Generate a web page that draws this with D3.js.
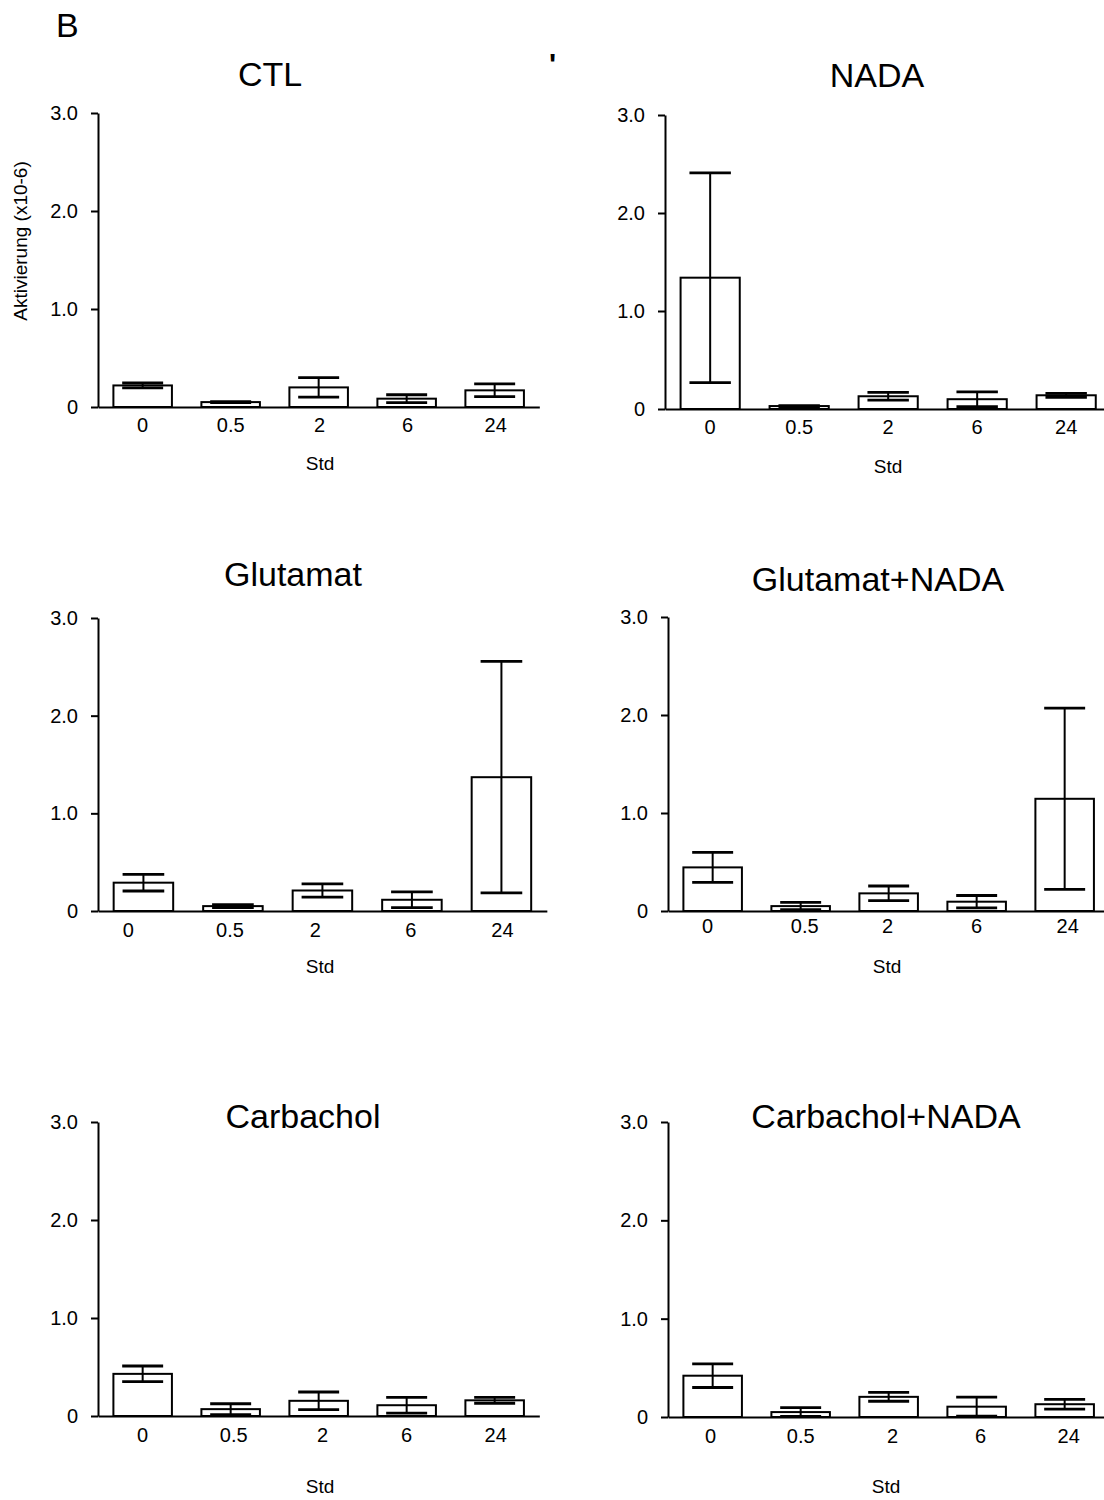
<!DOCTYPE html>
<html>
<head>
<meta charset="utf-8">
<script src="https://cdn.jsdelivr.net/npm/d3@7"></script>
<style>
  html, body { margin: 0; padding: 0; background: #fff; }
  svg { display: block; }
  text { font-family: "Liberation Sans", Arial, sans-serif; fill: #000; }
</style>
</head>
<body>
<svg id="chart" width="1104" height="1500"></svg>
<script>
// Time points (hours) and y-axis ticks shared by all panels
const categories = ["0", "0.5", "2", "6", "24"];
const yTicks = [0, 1, 2, 3];

// Mean activation (x10-6) and error per time point for each treatment
const ctlMean      = [0.22, 0.05, 0.20, 0.085, 0.17];
const ctlErr       = [0.025, 0.005, 0.10, 0.04, 0.065];
const nadaMean     = [1.34, 0.03, 0.13, 0.10, 0.14];
const nadaErr      = [1.07, 0.005, 0.04, 0.075, 0.02];
const gluMean      = [0.29, 0.05, 0.21, 0.115, 1.37];
const gluErr       = [0.085, 0.015, 0.068, 0.08, 1.185];
const gluNadaMean  = [0.445, 0.05, 0.18, 0.095, 1.145];
const gluNadaErr   = [0.153, 0.037, 0.075, 0.063, 0.925];
const carbMean     = [0.43, 0.07, 0.155, 0.11, 0.16];
const carbErr      = [0.08, 0.055, 0.09, 0.08, 0.03];
const carbNadaMean = [0.42, 0.05, 0.205, 0.105, 0.13];
const carbNadaErr  = [0.12, 0.045, 0.045, 0.097, 0.05];

const titles = ["CTL", "NADA", "Glutamat", "Glutamat+NADA", "Carbachol", "Carbachol+NADA"];
const means  = [ctlMean, nadaMean, gluMean, gluNadaMean, carbMean, carbNadaMean];
const errs   = [ctlErr, nadaErr, gluErr, gluNadaErr, carbErr, carbNadaErr];

// Panel placement on the page (labelDx nudges individual time labels)
const layout = [
  { axisX: 98,  y0: 407,  yTop: 113,  step: 88,   titleX: 270, titleY: 86,   tickY: 432,  stdX: 320, stdY: 470,  yTitle: true,
    labelDx: [0, 0, 1, 1, 1] },
  { axisX: 665, y0: 409,  yTop: 115,  step: 89,   titleX: 877, titleY: 87,   tickY: 434,  stdX: 888, stdY: 473,
    labelDx: [0, 0, 0, 0, 0] },
  { axisX: 98,  y0: 911,  yTop: 618,  step: 89.5, titleX: 293, titleY: 586,  tickY: 937,  stdX: 320, stdY: 973,
    labelDx: [-15, -3, -7, -1, 1] },
  { axisX: 668, y0: 911,  yTop: 617,  step: 88,   titleX: 878, titleY: 591,  tickY: 933,  stdX: 887, stdY: 973,
    labelDx: [-5, 4, -1, 0, 3] },
  { axisX: 98,  y0: 1416, yTop: 1122, step: 88,   titleX: 303, titleY: 1128, tickY: 1442, stdX: 320, stdY: 1493,
    labelDx: [0, 3, 4, 0, 1] },
  { axisX: 668, y0: 1417, yTop: 1122, step: 88,   titleX: 886, titleY: 1128, tickY: 1443, stdX: 886, stdY: 1493,
    labelDx: [-2, 0, 4, 4, 4] }
];

const svg = d3.select("#chart");

// Panel letter and stray mark at the top
svg.append("text").attr("x", 56).attr("y", 37)
  .style("font-size", "34px").text("B");
svg.append("text").attr("x", 549).attr("y", 74)
  .style("font-size", "30px").style("font-weight", "bold").text("'");

const padInner = 0.335, padOuter = 0.175;

layout.forEach((L, i) => {
  const g = svg.append("g");
  const data = categories.map((c, k) => ({ cat: c, mean: means[i][k], err: errs[i][k] }));

  const span = L.step * (categories.length - padInner + 2 * padOuter);
  const x = d3.scaleBand().domain(categories)
    .range([L.axisX, L.axisX + span])
    .paddingInner(padInner).paddingOuter(padOuter);
  const y = d3.scaleLinear().domain([0, 3]).range([L.y0, L.yTop]);

  // Bars
  g.selectAll("rect.bar").data(data).join("rect")
    .attr("class", "bar")
    .attr("x", d => x(d.cat))
    .attr("y", d => y(d.mean))
    .attr("width", x.bandwidth())
    .attr("height", d => y(0) - y(d.mean))
    .attr("fill", "#fff").attr("stroke", "#000").attr("stroke-width", 2);

  // Error bars
  const capW = x.bandwidth() * 0.7;
  const eb = g.selectAll("g.err").data(data).join("g").attr("class", "err");
  eb.append("line")
    .attr("x1", d => x(d.cat) + x.bandwidth() / 2)
    .attr("x2", d => x(d.cat) + x.bandwidth() / 2)
    .attr("y1", d => y(d.mean + d.err))
    .attr("y2", d => y(Math.max(0, d.mean - d.err)))
    .attr("stroke", "#000").attr("stroke-width", 2);
  [1, -1].forEach(s => {
    eb.append("line")
      .attr("x1", d => x(d.cat) + x.bandwidth() / 2 - capW / 2)
      .attr("x2", d => x(d.cat) + x.bandwidth() / 2 + capW / 2)
      .attr("y1", d => y(Math.max(0, d.mean + s * d.err)))
      .attr("y2", d => y(Math.max(0, d.mean + s * d.err)))
      .attr("stroke", "#000").attr("stroke-width", 2.8);
  });

  // X axis (no tick marks, labels only)
  const xAxis = g.append("g")
    .attr("transform", `translate(0,${L.y0})`)
    .call(d3.axisBottom(x).tickSize(0).tickSizeOuter(0).tickPadding(L.tickY - L.y0 - 14));
  xAxis.select(".domain").attr("stroke", "#000").attr("stroke-width", 2);
  xAxis.selectAll("text").style("font-size", "20px").style("font-family", null)
    .attr("dx", (d, k) => L.labelDx[k]);

  // Y axis
  const yAxis = g.append("g")
    .attr("transform", `translate(${L.axisX},0)`)
    .call(d3.axisLeft(y).tickValues(yTicks).tickSize(7).tickSizeOuter(0).tickPadding(13)
      .tickFormat(d => d === 0 ? "0" : d3.format(".1f")(d)));
  yAxis.select(".domain").attr("stroke", "#000").attr("stroke-width", 2);
  yAxis.selectAll(".tick line").attr("stroke", "#000").attr("stroke-width", 2);
  yAxis.selectAll("text").style("font-size", "20px").style("font-family", null);

  // Titles and axis labels
  g.append("text").attr("x", L.titleX).attr("y", L.titleY)
    .attr("text-anchor", "middle").style("font-size", "34px").text(titles[i]);
  g.append("text").attr("x", L.stdX).attr("y", L.stdY)
    .attr("text-anchor", "middle").style("font-size", "19px").text("Std");
  if (L.yTitle) {
    g.append("text")
      .attr("transform", `translate(27,241) rotate(-90)`)
      .attr("text-anchor", "middle").style("font-size", "19px")
      .text("Aktivierung (x10-6)");
  }
});
</script>
</body>
</html>
